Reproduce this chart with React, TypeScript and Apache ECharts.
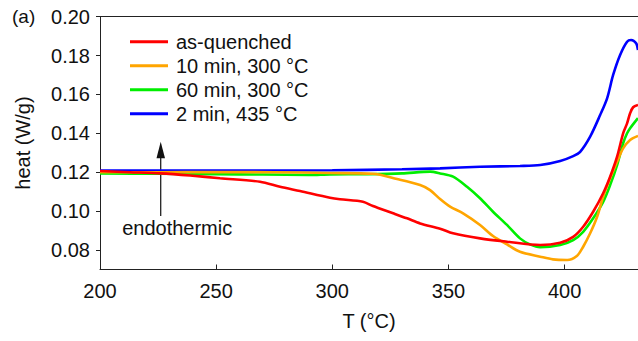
import React, { useEffect, useRef } from "react";
import * as echarts from "echarts";

const seriesNames = ["as-quenched", "10 min, 300 °C", "60 min, 300 °C", "2 min, 435 °C"];
const seriesColors = ["#ff0000", "#ffa500", "#00ee00", "#0000ff"];

const asQuenched: [number, number][] = [
  [200, 0.1206], [212.9, 0.12], [225.8, 0.1194], [238.8, 0.1183], [251.7, 0.1169],
  [268.9, 0.1151], [277.5, 0.1125], [286.1, 0.1103], [299, 0.1069], [303.3, 0.1061],
  [313.2, 0.1048], [317.5, 0.1026], [326.2, 0.0989], [332.2, 0.0963], [337.8, 0.0937],
  [346.4, 0.091], [352, 0.0886], [363.6, 0.086], [375.2, 0.0843], [389.5, 0.0826],
  [398.1, 0.0838], [403.7, 0.0868], [408, 0.092], [412.3, 0.0997], [416.6, 0.1092],
  [419.6, 0.1177], [422.6, 0.128], [425.2, 0.14], [426.9, 0.1451], [428.2, 0.1503],
  [429.5, 0.1534], [431.6, 0.1546],
];

const min10at300: [number, number][] = [
  [200, 0.12], [225, 0.12], [250, 0.1201], [275, 0.12], [299, 0.1196], [317.5, 0.1192],
  [327.9, 0.1165], [337.8, 0.1134], [342.1, 0.1108], [346.4, 0.1062], [350.7, 0.1023],
  [356.3, 0.0989], [363.6, 0.0929], [369.2, 0.0872], [375.2, 0.0829], [380.8, 0.0791],
  [389.5, 0.0766], [395, 0.0752], [401.1, 0.0749], [405.4, 0.0771], [408, 0.0817],
  [411, 0.0886], [414, 0.0971], [416.6, 0.1074], [419.6, 0.1169], [422.6, 0.1254],
  [425.2, 0.1323], [428.2, 0.1366], [431.6, 0.1387],
];

const min60at300: [number, number][] = [
  [200, 0.1194], [225, 0.1192], [250, 0.119], [270, 0.1188], [290, 0.1186], [299, 0.1189],
  [315, 0.119], [330, 0.1194], [342.1, 0.1203], [346.4, 0.1194], [352, 0.1177],
  [358, 0.1125], [363.6, 0.1066], [369.2, 0.0997], [375.2, 0.0929], [380.8, 0.086],
  [385.1, 0.0829], [389.5, 0.0814], [398.1, 0.0826], [403.7, 0.0851], [408, 0.0894],
  [412.3, 0.0963], [416.6, 0.1048], [419.6, 0.1134], [422.6, 0.1237], [425.2, 0.1349],
  [426.9, 0.14], [428.2, 0.1426], [431.6, 0.1478],
];

const min2at435: [number, number][] = [
  [200, 0.1208], [250, 0.1209], [300, 0.121], [330, 0.1215], [346.4, 0.122],
  [363.6, 0.1228], [380.8, 0.1232], [389.5, 0.1237], [398.1, 0.1258], [403.7, 0.1283],
  [406.7, 0.1305], [411, 0.1383], [415.3, 0.1494], [418.3, 0.158],
  [420.9, 0.17], [423.9, 0.1803], [426.9, 0.1871], [428.6, 0.188], [430.8, 0.1863],
  [431.6, 0.1828],
];

const xTicks = [200, 250, 300, 350, 400];
const yTicks = [0.08, 0.1, 0.12, 0.14, 0.16, 0.18, 0.2];

const allSeries = [asQuenched, min10at300, min60at300, min2at435];

const FONT = "Liberation Sans, Arial, Helvetica, sans-serif";

export default function App() {
  const ref = useRef<HTMLDivElement>(null);
  useEffect(() => {
    if (!ref.current) return;
    const chart = echarts.init(ref.current, undefined, { renderer: "svg" });
    const axisColor = "#222";
    chart.setOption({
      animation: false,
      backgroundColor: "#ffffff",
      textStyle: { fontFamily: FONT },
      grid: { left: 100, right: 0, top: 16.6, bottom: 71.5, containLabel: false },
      legend: {
        orient: "vertical",
        left: 130,
        top: 31.7,
        padding: 0,
        itemGap: 4,
        itemWidth: 38,
        itemHeight: 3,
        icon: "rect",
        data: seriesNames,
        textStyle: { fontSize: 20, color: "#111", fontFamily: FONT, padding: [0, 0, 0, 3], lineHeight: 20 },
      },
      xAxis: [
        {
          type: "value",
          min: 200,
          max: 431.6,
          name: "T (°C)",
          nameLocation: "middle",
          nameGap: 41,
          nameTextStyle: { fontSize: 20, color: "#111", fontFamily: FONT },
          axisLine: { show: true, lineStyle: { color: axisColor, width: 1 } },
          axisTick: { show: true, inside: true, length: 5, customValues: xTicks, lineStyle: { color: axisColor } },
          axisLabel: { customValues: xTicks, fontSize: 20, color: "#111", margin: 11, fontFamily: FONT },
          splitLine: { show: false },
        },
        {
          type: "value",
          position: "top",
          min: 200,
          max: 431.6,
          axisLine: { show: true, lineStyle: { color: axisColor, width: 1 } },
          axisTick: { show: false },
          axisLabel: { show: false },
          splitLine: { show: false },
        },
      ],
      yAxis: {
        type: "value",
        min: 0.07,
        max: 0.2,
        name: "heat (W/g)",
        nameLocation: "middle",
        nameGap: 67,
        nameTextStyle: { fontSize: 20, color: "#111", fontFamily: FONT },
        axisLine: { show: true, lineStyle: { color: axisColor, width: 1 } },
        axisTick: { show: true, inside: false, length: 4, customValues: yTicks, lineStyle: { color: axisColor } },
        axisLabel: {
          customValues: yTicks,
          fontSize: 20,
          color: "#111",
          margin: 10,
          fontFamily: FONT,
          formatter: (v: number) => v.toFixed(2),
        },
        splitLine: { show: false },
      },
      series: allSeries.map((d, i) => ({
        name: seriesNames[i],
        type: "line",
        data: d,
        xAxisIndex: 0,
        showSymbol: false,
        symbol: "none",
        smooth: 0.3,
        lineStyle: { color: seriesColors[i], width: 2.6 },
        itemStyle: { color: seriesColors[i] },
        z: 2 + (3 - i),
      })),
      graphic: [
        {
          type: "text",
          left: 12,
          top: 7,
          style: { text: "(a)", fontSize: 19, fill: "#111", fontFamily: FONT },
        },
        {
          type: "line",
          shape: { x1: 160.7, y1: 216, x2: 160.7, y2: 156 },
          style: { stroke: "#222", lineWidth: 1.3 },
        },
        {
          type: "polygon",
          shape: { points: [[160.7, 141.7], [156.5, 158.3], [165, 158.3]] },
          style: { fill: "#111" },
        },
        {
          type: "text",
          x: 177.2,
          y: 228,
          style: {
            text: "endothermic",
            fontSize: 20,
            fill: "#111",
            fontFamily: FONT,
            align: "center",
            verticalAlign: "middle",
          },
        },
      ],
    });
    return () => chart.dispose();
  }, []);
  return (
    <div
      ref={ref}
      style={{ position: "fixed", left: 0, top: 0, width: 638, height: 341, background: "#fff" }}
    />
  );
}
